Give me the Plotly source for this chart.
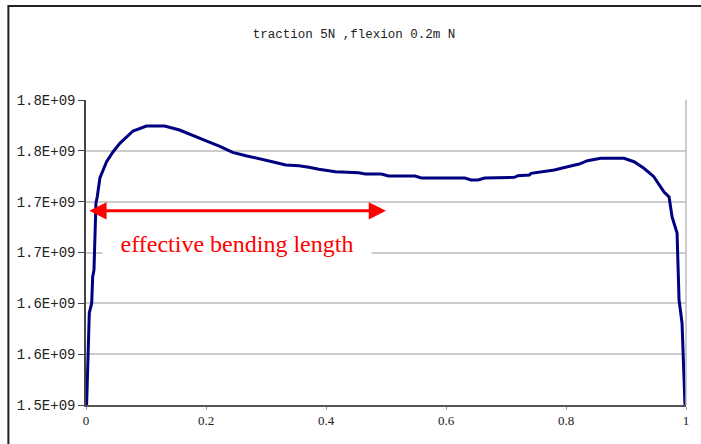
import plotly.graph_objects as go

# Curve data
x_vals = [0.001, 0.0055, 0.0095, 0.0111, 0.0133, 0.0140, 0.0166, 0.0187, 0.0232, 0.0343,
          0.0453, 0.0564, 0.0675, 0.0784, 0.1007, 0.1310, 0.1559, 0.1779, 0.2002, 0.2222,
          0.2443, 0.2665, 0.2886, 0.3106, 0.3328, 0.3549, 0.3715, 0.3881, 0.4158, 0.4544,
          0.4655, 0.4925, 0.5041, 0.5484, 0.5589, 0.6313, 0.6418, 0.6534, 0.6645, 0.7143,
          0.7197, 0.7391, 0.7418, 0.7612, 0.7806, 0.8027, 0.8220, 0.8358, 0.8579, 0.8967,
          0.9133, 0.9299, 0.9464, 0.9574, 0.9635, 0.9718, 0.9768, 0.9851, 0.9884, 0.9934,
          0.9983]
y_vals = [1.500, 1.5905, 1.6003, 1.6259, 1.6328, 1.6475, 1.6987, 1.7046, 1.7233, 1.7393,
          1.7491, 1.7574, 1.7639, 1.7695, 1.7744, 1.7744, 1.7705, 1.7649, 1.7597, 1.7547,
          1.7485, 1.7452, 1.7426, 1.7393, 1.7361, 1.7354, 1.7338, 1.7318, 1.7295, 1.7285,
          1.7272, 1.7272, 1.7252, 1.7252, 1.7233, 1.7233, 1.7213, 1.7213, 1.7233, 1.7240,
          1.7255, 1.7262, 1.7279, 1.7295, 1.7311, 1.7344, 1.7370, 1.7403, 1.7427, 1.7427,
          1.7393, 1.7328, 1.7246, 1.7147, 1.7095, 1.7046, 1.6849, 1.6692, 1.6033, 1.5807,
          1.500]
y_vals = [v * 1e9 for v in y_vals]

y_tick_vals = [1.50e9, 1.55e9, 1.60e9, 1.65e9, 1.70e9, 1.75e9, 1.80e9]
y_tick_text = ["1.5E+09", "1.6E+09", "1.6E+09", "1.7E+09", "1.7E+09", "1.8E+09", "1.8E+09"]
x_tick_vals = [0, 0.2, 0.4, 0.6, 0.8, 1]
x_tick_text = ["0", "0.2", "0.4", "0.6", "0.8", "1"]

title_text = "traction 5N ,flexion 0.2m N"
label_text = "effective bending length"
arrow_start_x = 0.003
arrow_end_x = 0.5
arrow_y = 1.691e9
label_x = 0.252
label_y = 1.6584e9

fig = go.Figure()
fig.add_trace(go.Scatter(x=x_vals, y=y_vals, mode="lines",
                         line=dict(color="#000080", width=3), showlegend=False,
                         hoverinfo="skip"))

fig.update_layout(
    width=701, height=444,
    margin=dict(l=86, r=12, t=100, b=39),
    paper_bgcolor="white", plot_bgcolor="white",
    title=dict(text=title_text, x=0.505, xref="container", xanchor="center",
               y=1 - 34 / 444, yref="container", yanchor="middle",
               font=dict(family="Liberation Mono", size=12.5, color="#222222")),
    xaxis=dict(range=[0, 1], tickvals=x_tick_vals, ticktext=x_tick_text,
               showgrid=False, zeroline=False, showline=True, linecolor="#555555",
               linewidth=1.5, ticks="outside", ticklen=3, tickcolor="#999999",
               tickfont=dict(family="Liberation Serif", size=13, color="#222222")),
    yaxis=dict(range=[1.5e9, 1.8e9], tickvals=y_tick_vals, ticktext=y_tick_text,
               showgrid=True, gridcolor="#cccccc", gridwidth=1.5, zeroline=False,
               showline=True, linecolor="#444444", linewidth=1.5,
               ticks="outside", ticklen=6, tickcolor="#444444",
               tickfont=dict(family="Liberation Mono", size=14, color="#222222")),
    shapes=[
        dict(type="line", xref="paper", yref="paper", x0=1, x1=1, y0=0, y1=1,
             line=dict(color="#bbbbbb", width=1.5)),
        dict(type="rect", xref="paper", yref="paper", x0=(8 - 86) / 603, x1=1.2,
             y0=-0.3, y1=(405 - 6) / 305, line=dict(color="#222222", width=2),
             layer="above"),
    ],
    annotations=[
        dict(x=arrow_end_x, y=arrow_y, ax=arrow_start_x, ay=arrow_y,
             xref="x", yref="y", axref="x", ayref="y", text="",
             showarrow=True, arrowside="end+start", arrowhead=2, startarrowhead=2,
             arrowsize=1.15, startarrowsize=1.15, arrowwidth=3, arrowcolor="#ff0000",
             standoff=0, startstandoff=0),
        dict(x=label_x, y=label_y, xref="x", yref="y", text=label_text,
             showarrow=False, bgcolor="white", width=268, height=34, borderpad=0,
             font=dict(family="Liberation Serif", size=24, color="#ff0000")),
    ],
)

fig.write_html("out.html")
